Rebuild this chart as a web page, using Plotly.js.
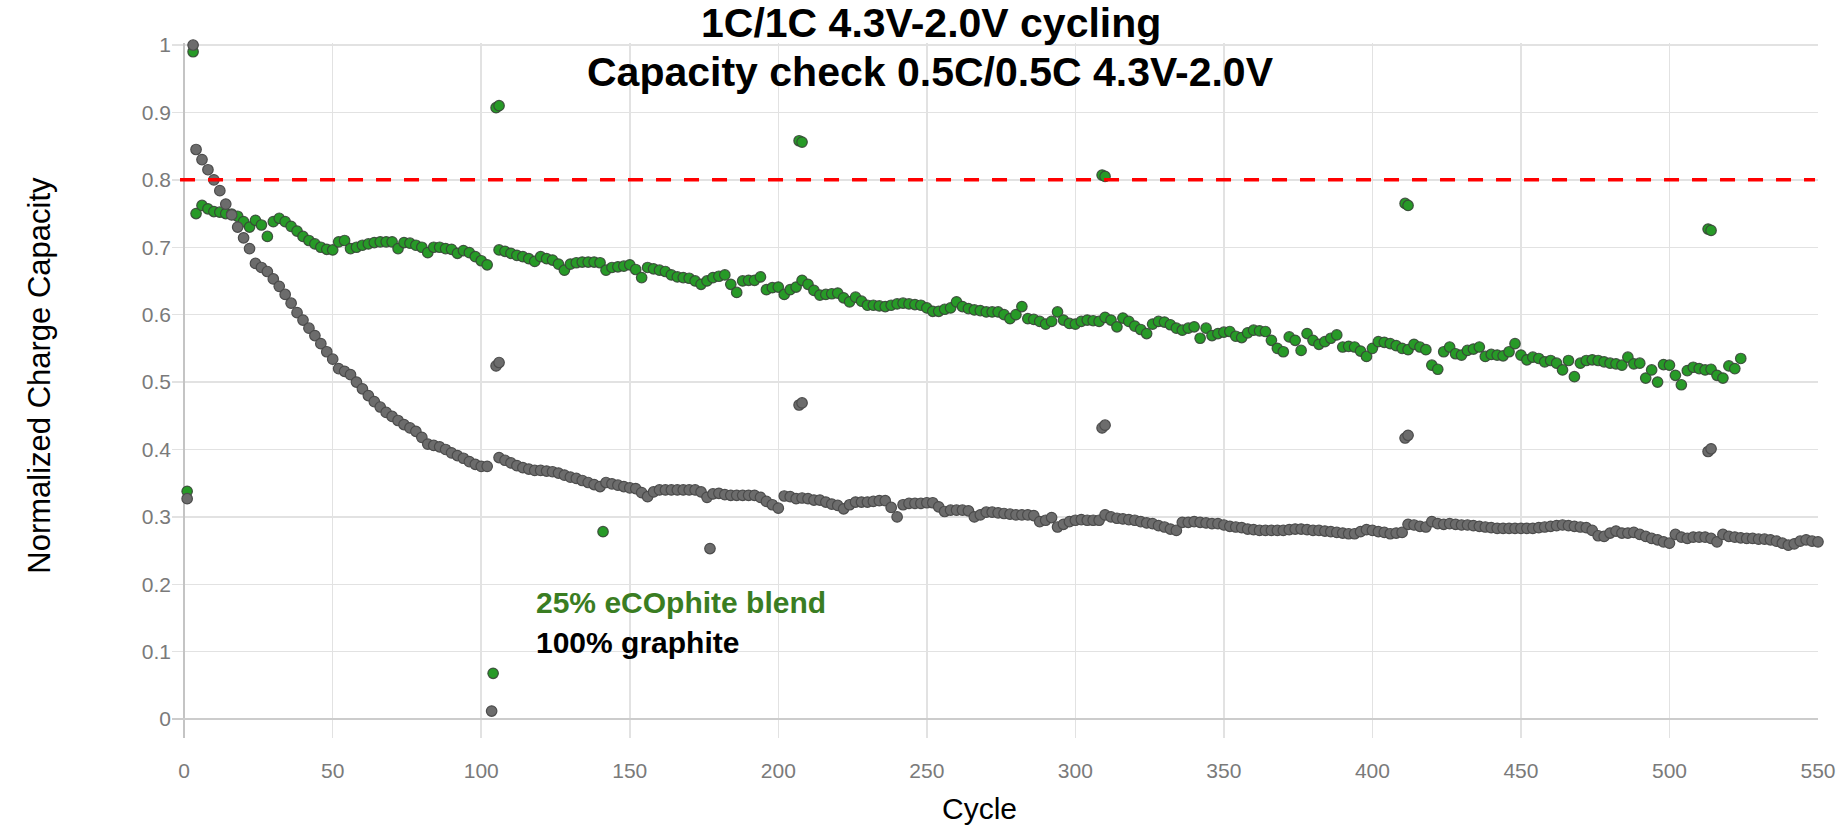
<!DOCTYPE html>
<html>
<head>
<meta charset="utf-8">
<script src="https://cdn.plot.ly/plotly-3.0.1.min.js"></script>
<style>html,body{margin:0;padding:0;background:#fff;}#chart{width:1836px;height:826px;}</style>
</head>
<body>
<div id="chart"></div>
<script>
// ---------- DATA ----------
// 25% eCOphite blend : regular 1C/1C cycles
const blendCycles = [4,6,8,10,12,14,16,18,20,22,24,26,28,30,32,34,36,38,40,42,44,46,48,50,52,54,56,58,60,62,64,66,68,70,72,74,76,78,80,82,84,86,88,90,92,94,96,98,100,102,
106,108,110,112,114,116,118,120,122,124,126,128,130,132,134,136,138,140,142,144,146,148,150,152,154,156,158,160,162,164,166,168,170,172,174,176,178,180,182,184,186,188,190,192,194,196,198,200,202,204,
206,208,210,212,214,216,218,220,222,224,226,228,230,232,234,236,238,240,242,244,246,248,250,252,254,256,258,260,262,264,266,268,270,272,274,276,278,280,282,284,286,288,290,292,294,296,298,300,302,304,
306,308,310,312,314,316,318,320,322,324,326,328,330,332,334,336,338,340,342,344,346,348,350,352,354,356,358,360,362,364,366,368,370,372,374,376,378,380,382,384,386,388,390,392,394,396,398,400,402,404,
406,408,410,412,414,416,418,420,422,424,426,428,430,432,434,436,438,440,442,444,446,448,450,452,454,456,458,460,462,464,466,468,470,472,474,476,478,480,482,484,486,488,490,492,494,496,498,500,502,504,
506,508,510,512,514,516,518,520,522,524];
const blendCapacity = [0.750,0.762,0.757,0.753,0.752,0.750,0.749,0.746,0.738,0.730,0.740,0.733,0.716,0.738,0.743,0.738,0.731,0.724,0.716,0.710,0.705,0.700,0.697,0.696,0.708,0.710,0.698,0.700,0.703,0.705,0.707,0.708,0.708,0.708,0.698,0.707,0.706,0.703,0.700,0.692,0.700,0.700,0.698,0.697,0.691,0.695,0.692,0.686,0.680,0.674,
0.696,0.694,0.691,0.688,0.686,0.683,0.679,0.686,0.683,0.681,0.675,0.666,0.675,0.677,0.678,0.678,0.678,0.677,0.666,0.670,0.671,0.672,0.674,0.667,0.655,0.670,0.668,0.666,0.664,0.659,0.656,0.655,0.654,0.650,0.645,0.650,0.655,0.657,0.659,0.645,0.633,0.650,0.651,0.651,0.656,0.637,0.640,0.641,0.630,0.637,
0.641,0.651,0.645,0.636,0.629,0.630,0.631,0.632,0.625,0.619,0.626,0.620,0.614,0.614,0.613,0.612,0.614,0.616,0.617,0.616,0.615,0.614,0.610,0.605,0.605,0.608,0.610,0.619,0.612,0.609,0.607,0.606,0.604,0.604,0.604,0.600,0.594,0.600,0.612,0.594,0.593,0.590,0.586,0.590,0.604,0.592,0.587,0.586,0.590,0.592,
0.591,0.590,0.596,0.592,0.582,0.595,0.590,0.583,0.578,0.572,0.586,0.590,0.589,0.585,0.580,0.577,0.580,0.582,0.565,0.580,0.569,0.572,0.574,0.575,0.568,0.566,0.573,0.577,0.576,0.575,0.562,0.550,0.545,0.567,0.562,0.547,0.572,0.562,0.556,0.560,0.565,0.570,0.552,0.553,0.552,0.546,0.538,0.550,0.560,0.559,
0.557,0.554,0.550,0.548,0.556,0.552,0.548,0.525,0.519,0.545,0.552,0.542,0.540,0.547,0.549,0.552,0.538,0.541,0.540,0.539,0.545,0.557,0.540,0.533,0.537,0.535,0.530,0.532,0.528,0.518,0.532,0.508,0.528,0.532,0.533,0.532,0.530,0.528,0.527,0.525,0.537,0.527,0.528,0.506,0.518,0.500,0.526,0.525,0.510,0.496,
0.517,0.522,0.520,0.518,0.519,0.510,0.506,0.524,0.520,0.535];
// 25% eCOphite blend : capacity-check and stray points
const blendCheckCycles   = [1, 3, 104, 105, 106, 141, 207, 208, 309, 310, 411, 412, 513, 514];
const blendCheckCapacity = [0.338, 0.990, 0.068, 0.907, 0.910, 0.278, 0.858, 0.856, 0.807, 0.805, 0.765, 0.762, 0.727, 0.725];

// 100% graphite : regular 1C/1C cycles
const graphiteCycles = [4,6,8,10,12,14,16,18,20,22,24,26,28,30,32,34,36,38,40,42,44,46,48,50,52,54,56,58,60,62,64,66,68,70,72,74,76,78,80,82,84,86,88,90,92,94,96,98,100,102,
106,108,110,112,114,116,118,120,122,124,126,128,130,132,134,136,138,140,142,144,146,148,150,152,154,156,158,160,162,164,166,168,170,172,174,176,178,180,182,184,186,188,190,192,194,196,198,200,202,204,
206,208,210,212,214,216,218,220,222,224,226,228,230,232,234,236,238,240,242,244,246,248,250,252,254,256,258,260,262,264,266,268,270,272,274,276,278,280,282,284,286,288,290,292,294,296,298,300,302,304,
306,308,310,312,314,316,318,320,322,324,326,328,330,332,334,336,338,340,342,344,346,348,350,352,354,356,358,360,362,364,366,368,370,372,374,376,378,380,382,384,386,388,390,392,394,396,398,400,402,404,
406,408,410,412,414,416,418,420,422,424,426,428,430,432,434,436,438,440,442,444,446,448,450,452,454,456,458,460,462,464,466,468,470,472,474,476,478,480,482,484,486,488,490,492,494,496,498,500,502,504,
506,508,510,512,514,516,518,520,522,524,526,528,530,532,534,536,538,540,542,544,546,548,550,552,554,556];
const graphiteCapacity = [0.845,0.830,0.815,0.800,0.784,0.764,0.748,0.730,0.714,0.698,0.676,0.670,0.664,0.653,0.642,0.630,0.617,0.603,0.592,0.580,0.569,0.557,0.545,0.534,0.520,0.516,0.511,0.500,0.490,0.480,0.471,0.463,0.455,0.449,0.443,0.437,0.432,0.427,0.418,0.408,0.406,0.404,0.400,0.395,0.391,0.387,0.382,0.378,0.375,0.375,
0.388,0.384,0.380,0.376,0.373,0.371,0.369,0.369,0.368,0.367,0.365,0.362,0.359,0.357,0.354,0.351,0.348,0.345,0.351,0.349,0.347,0.345,0.343,0.342,0.336,0.330,0.337,0.340,0.340,0.340,0.340,0.340,0.340,0.340,0.337,0.329,0.334,0.335,0.333,0.332,0.332,0.332,0.332,0.332,0.329,0.323,0.318,0.313,0.331,0.330,
0.327,0.328,0.327,0.325,0.325,0.322,0.319,0.317,0.312,0.318,0.322,0.322,0.322,0.323,0.324,0.324,0.314,0.300,0.318,0.320,0.320,0.320,0.321,0.321,0.315,0.308,0.310,0.310,0.310,0.309,0.300,0.303,0.307,0.307,0.306,0.305,0.304,0.303,0.303,0.303,0.302,0.293,0.295,0.299,0.285,0.289,0.293,0.295,0.296,0.295,
0.295,0.295,0.303,0.300,0.298,0.297,0.296,0.295,0.293,0.291,0.290,0.287,0.285,0.282,0.280,0.292,0.292,0.293,0.292,0.291,0.290,0.290,0.288,0.286,0.285,0.284,0.282,0.281,0.280,0.280,0.280,0.280,0.280,0.281,0.282,0.282,0.281,0.280,0.280,0.279,0.278,0.277,0.276,0.275,0.275,0.278,0.281,0.280,0.278,0.277,
0.275,0.276,0.277,0.289,0.288,0.286,0.285,0.293,0.290,0.289,0.290,0.289,0.288,0.288,0.287,0.286,0.285,0.284,0.283,0.283,0.283,0.283,0.283,0.283,0.283,0.284,0.285,0.286,0.287,0.288,0.287,0.286,0.285,0.284,0.280,0.272,0.271,0.276,0.279,0.276,0.276,0.277,0.274,0.271,0.268,0.266,0.263,0.261,0.274,0.270,
0.268,0.270,0.270,0.270,0.268,0.263,0.274,0.271,0.270,0.269,0.268,0.268,0.267,0.267,0.266,0.264,0.261,0.258,0.260,0.264,0.266,0.264,0.263,0.262,0.261,0.260];
// 100% graphite : capacity-check and stray points
const graphiteCheckCycles   = [1, 3, 103.5, 105, 106, 177, 207, 208, 309, 310, 411, 412, 513, 514];
const graphiteCheckCapacity = [0.327, 1.000, 0.012, 0.524, 0.529, 0.253, 0.466, 0.469, 0.432, 0.436, 0.417, 0.421, 0.397, 0.401];

// 80% capacity threshold
const thresholdCapacity = 0.8;
const thresholdCycles = [-1.4, 549];

// axis ticks
const xTickVals = [0,50,100,150,200,250,300,350,400,450,500,550];
const yTickVals = [0,0.1,0.2,0.3,0.4,0.5,0.6,0.7,0.8,0.9,1];
const yTickText = ['0','0.1','0.2','0.3','0.4','0.5','0.6','0.7','0.8','0.9','1'];

const titleLines = ['1C/1C 4.3V-2.0V cycling', 'Capacity check 0.5C/0.5C 4.3V-2.0V'];
const seriesNames = ['25% eCOphite blend', '100% graphite'];

// ---------- CHART ----------
const baseFont = '"Liberation Sans", Arial, sans-serif';
const tickFont = {family: '"Liberation Sans Narrow", "Liberation Sans", Arial, sans-serif', size: 21, color: '#7a7a7a'};

const blendTrace = {
  type: 'scatter', mode: 'markers', name: seriesNames[0],
  x: blendCheckCycles.slice(0,2).concat(blendCycles, blendCheckCycles.slice(2)),
  y: blendCheckCapacity.slice(0,2).concat(blendCapacity, blendCheckCapacity.slice(2)),
  cliponaxis: false,
  marker: {size: 10.5, color: '#279a27', line: {color: 'rgba(55,70,55,0.9)', width: 1.2}},
  hoverinfo: 'x+y'
};
const graphiteTrace = {
  type: 'scatter', mode: 'markers', name: seriesNames[1],
  x: graphiteCheckCycles.slice(0,2).concat(graphiteCycles, graphiteCheckCycles.slice(2)),
  y: graphiteCheckCapacity.slice(0,2).concat(graphiteCapacity, graphiteCheckCapacity.slice(2)),
  cliponaxis: false,
  marker: {size: 10.5, color: '#6c6c6c', line: {color: '#4c4c4c', width: 1.2}},
  hoverinfo: 'x+y'
};

const layout = {
  width: 1836, height: 826,
  paper_bgcolor: '#ffffff', plot_bgcolor: '#ffffff',
  margin: {l: 172, r: 18, t: 43, b: 88},
  showlegend: false,
  font: {family: baseFont, color: '#000'},
  xaxis: {
    range: [-4.1, 550], tickvals: xTickVals,
    showgrid: true, gridcolor: '#e2e2e2', gridwidth: 1.5,
    zeroline: true, zerolinecolor: '#c4c4c4', zerolinewidth: 2,
    showline: false, ticks: '', tickfont: tickFont, ticklabelstandoff: 18
  },
  yaxis: {
    range: [-0.028, 1.003], tickvals: yTickVals, ticktext: yTickText,
    showgrid: true, gridcolor: '#e2e2e2', gridwidth: 1.5,
    zeroline: true, zerolinecolor: '#cccccc', zerolinewidth: 2.5,
    showline: false, ticks: '', tickfont: tickFont, ticklabelstandoff: 0
  },
  shapes: [{
    type: 'line', xref: 'x', yref: 'y',
    x0: thresholdCycles[0], x1: thresholdCycles[1], y0: thresholdCapacity, y1: thresholdCapacity,
    line: {color: '#ff0000', width: 3.5, dash: '15px,13px'}, layer: 'above'
  }],
  annotations: [
    {text: '<b>' + titleLines[0] + '</b>', xref: 'paper', yref: 'paper', x: 0.461, y: 1.0288, xanchor: 'center', yanchor: 'middle',
     showarrow: false, font: {family: baseFont, size: 41, color: '#000'}},
    {text: '<b>' + titleLines[1] + '</b>', xref: 'paper', yref: 'paper', x: 0.461, y: 0.958, xanchor: 'center', yanchor: 'middle',
     showarrow: false, font: {family: baseFont, size: 41, color: '#000'}},
    {text: 'Normalized Charge Capacity', xref: 'paper', yref: 'paper', x: -0.0805, y: 0.522, xanchor: 'center', yanchor: 'middle',
     textangle: -90, showarrow: false, font: {family: baseFont, size: 31, color: '#000'}},
    {text: 'Cycle', xref: 'paper', yref: 'paper', x: 0.4905, y: -0.101, xanchor: 'center', yanchor: 'middle',
     showarrow: false, font: {family: baseFont, size: 30, color: '#000'}},
    {text: '<b>' + seriesNames[0] + '</b>', xref: 'paper', yref: 'paper', x: 0.2200, y: 0.1952, xanchor: 'left', yanchor: 'middle',
     showarrow: false, font: {family: baseFont, size: 30, color: '#3a7d22'}},
    {text: '<b>' + seriesNames[1] + '</b>', xref: 'paper', yref: 'paper', x: 0.2200, y: 0.1375, xanchor: 'left', yanchor: 'middle',
     showarrow: false, font: {family: baseFont, size: 30, color: '#000'}}
  ]
};

Plotly.newPlot('chart', [blendTrace, graphiteTrace], layout, {displayModeBar: false, staticPlot: true});
</script>
</body>
</html>
